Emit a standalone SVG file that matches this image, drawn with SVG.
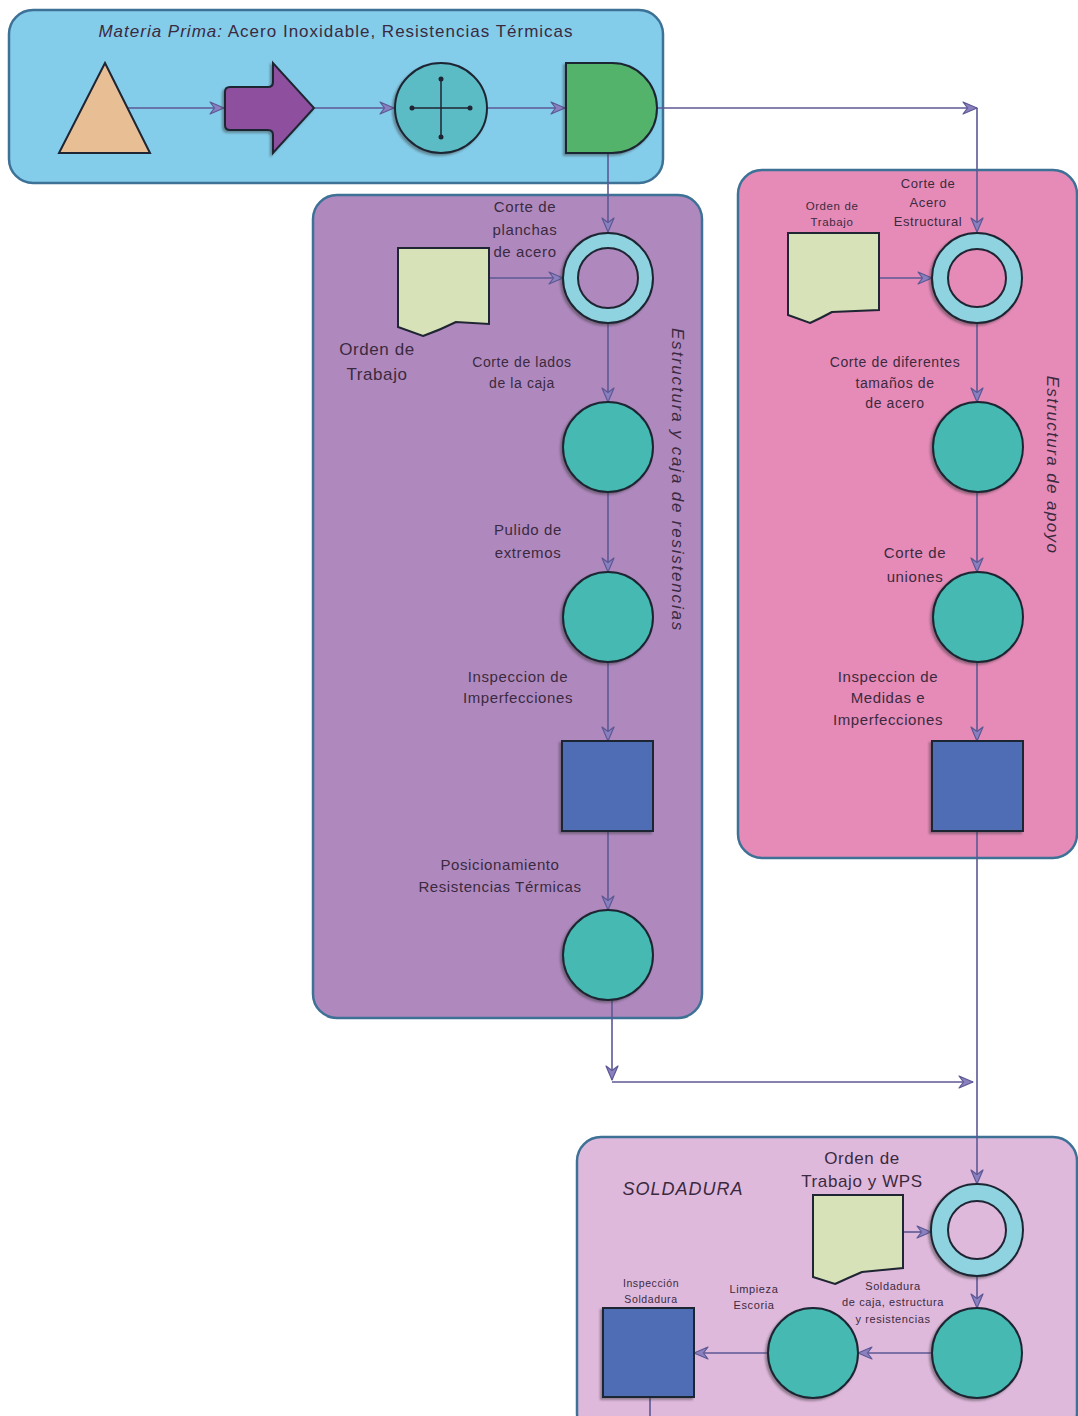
<svg xmlns="http://www.w3.org/2000/svg" width="1078" height="1416" viewBox="0 0 1078 1416">
<defs>
<style>
text{font-family:"Liberation Sans","DejaVu Sans",Arial,sans-serif;fill:#3b2a3f;text-anchor:middle;letter-spacing:0.6px}
.box{stroke:#3d7196;stroke-width:2.5}
.sh{stroke:#1f2533;stroke-width:2}
.op{fill:#45b9b2}
.ring{fill:#8fd3e0}
.insp{fill:#4f6db5}
.doc{fill:#d8e2b8}
.con{fill:none;stroke:#5c5894;stroke-width:1.6}
.arr{marker-end:url(#ah)}
.it{font-style:italic}
</style>
<marker id="ah" viewBox="0 0 16 14" refX="15" refY="7" markerWidth="16" markerHeight="14" markerUnits="userSpaceOnUse" orient="auto">
<path d="M1,1 L15,7 L1,13 L5.5,7 Z" fill="#8a80c0" stroke="#5c5894" stroke-width="1.2" stroke-linejoin="round"/>
</marker>
<filter id="ds" x="-20%" y="-20%" width="140%" height="140%">
<feDropShadow dx="-2" dy="2" stdDeviation="1.2" flood-color="#333" flood-opacity="0.45"/>
</filter>
</defs>

<!-- Containers -->
<g id="top-box">
<rect class="box" x="9" y="10" width="654" height="173" rx="24" fill="#84cdea"/>
<text x="336" y="37" font-size="17" style="letter-spacing:1px"><tspan class="it">Materia Prima:</tspan> Acero Inoxidable, Resistencias Térmicas</text>
</g>
<g id="box-caja">
<rect class="box" x="313" y="195" width="389" height="823" rx="24" fill="#af89be"/>
<text class="it" transform="translate(672,480) rotate(90)" font-size="17" style="letter-spacing:1.8px">Estructura y caja de resistencias</text>
</g>
<g id="box-apoyo">
<rect class="box" x="738" y="170" width="339" height="688" rx="24" fill="#e68bb8"/>
<text class="it" transform="translate(1047,465) rotate(90)" font-size="17" style="letter-spacing:1.4px">Estructura de apoyo</text>
</g>
<g id="box-soldadura">
<rect class="box" x="577" y="1137" width="500" height="300" rx="24" fill="#dfb9dc"/>
<text class="it" x="683" y="1195" font-size="18" style="letter-spacing:1px">SOLDADURA</text>
</g>

<!-- Connectors -->
<g id="connectors">
<path class="con arr" d="M128,108 H224"/>
<path class="con arr" d="M315,108 H394"/>
<path class="con arr" d="M487,108 H565"/>
<path class="con arr" d="M657,108 H977"/>
<path class="con arr" d="M977,108 V232"/>
<path class="con arr" d="M608,153 V232"/>
<path class="con arr" d="M490,278 H563"/>
<path class="con arr" d="M608,323 V402"/>
<path class="con arr" d="M608,492 V572"/>
<path class="con arr" d="M608,662 V741"/>
<path class="con arr" d="M608,831 V910"/>
<path class="con arr" d="M612,1000 V1080"/>
<path class="con arr" d="M612,1082 H973"/>
<path class="con arr" d="M879,278 H932"/>
<path class="con arr" d="M977,323 V402"/>
<path class="con arr" d="M977,492 V572"/>
<path class="con arr" d="M977,662 V741"/>
<path class="con arr" d="M977,831 V1184"/>
<path class="con arr" d="M903,1232 H931"/>
<path class="con arr" d="M977,1276 V1308"/>
<path class="con arr" d="M932,1353 H858"/>
<path class="con arr" d="M768,1353 H694"/>
<path class="con" d="M650,1397 V1416"/>
</g>

<!-- Top row nodes -->
<g id="n-materia">
<path class="sh" d="M59,153 L105,63 L150,153 Z" fill="#e8bf94"/>
</g>
<g id="n-transporte">
<path class="sh" filter="url(#ds)" d="M230,87 H268 Q273,87 273,82 V63 L314,108 L273,153 V135 Q273,130 268,130 H230 Q225,130 225,125 V92 Q225,87 230,87 Z" fill="#8e4f9e"/>
</g>
<g id="n-combinacion">
<ellipse class="sh" filter="url(#ds)" cx="441" cy="108" rx="46" ry="45" fill="#5cbcc6"/>
<path d="M412,108 H470 M441,79 V137" stroke="#1f2533" stroke-width="1.5"/>
<circle cx="412" cy="108" r="2.5" fill="#1f2533"/><circle cx="470" cy="108" r="2.5" fill="#1f2533"/>
<circle cx="441" cy="79" r="2.5" fill="#1f2533"/><circle cx="441" cy="137" r="2.5" fill="#1f2533"/>
</g>
<g id="n-demora">
<path class="sh" filter="url(#ds)" d="M566,63 H612 A45,45 0 0 1 612,153 H566 Z" fill="#52b36b"/>
</g>

<!-- Estructura y caja -->
<g id="n-doc1">
<path class="sh doc" d="M398,248 H489 V324 L456,322 Q440,330 423,336 L398,327 Z"/>
<text x="377" y="355" font-size="17">Orden de</text>
<text x="377" y="380" font-size="17">Trabajo</text>
</g>
<g id="n-ring1">
<circle class="sh ring" filter="url(#ds)" cx="608" cy="278" r="45"/>
<circle class="sh" cx="608" cy="278" r="30" fill="#af89be"/>
<text x="525" y="212" font-size="15">Corte de</text>
<text x="525" y="235" font-size="15">planchas</text>
<text x="525" y="257" font-size="15">de acero</text>
</g>
<g id="n-op1">
<circle class="sh op" filter="url(#ds)" cx="608" cy="447" r="45"/>
<text x="522" y="367" font-size="14">Corte de lados</text>
<text x="522" y="388" font-size="14">de la caja</text>
</g>
<g id="n-op2">
<circle class="sh op" filter="url(#ds)" cx="608" cy="617" r="45"/>
<text x="528" y="535" font-size="15">Pulido de</text>
<text x="528" y="558" font-size="15">extremos</text>
</g>
<g id="n-insp1">
<rect class="sh insp" filter="url(#ds)" x="562" y="741" width="91" height="90"/>
<text x="518" y="682" font-size="15">Inspeccion de</text>
<text x="518" y="703" font-size="15">Imperfecciones</text>
</g>
<g id="n-op3">
<circle class="sh op" filter="url(#ds)" cx="608" cy="955" r="45"/>
<text x="500" y="870" font-size="15">Posicionamiento</text>
<text x="500" y="892" font-size="15">Resistencias Térmicas</text>
</g>

<!-- Estructura de apoyo -->
<g id="n-doc2">
<path class="sh doc" d="M788,233 H879 V310 L832,312 Q821,318 810,323 L788,315 Z"/>
<text x="832" y="210" font-size="11.5">Orden de</text>
<text x="832" y="226" font-size="11.5">Trabajo</text>
</g>
<g id="n-ring2">
<circle class="sh ring" filter="url(#ds)" cx="977" cy="278" r="45"/>
<circle class="sh" cx="977" cy="278" r="29" fill="#e68bb8"/>
<text x="928" y="188" font-size="13">Corte de</text>
<text x="928" y="207" font-size="13">Acero</text>
<text x="928" y="226" font-size="13">Estructural</text>
</g>
<g id="n-op4">
<circle class="sh op" filter="url(#ds)" cx="978" cy="447" r="45"/>
<text x="895" y="367" font-size="14">Corte de diferentes</text>
<text x="895" y="388" font-size="14">tamaños de</text>
<text x="895" y="408" font-size="14">de acero</text>
</g>
<g id="n-op5">
<circle class="sh op" filter="url(#ds)" cx="978" cy="617" r="45"/>
<text x="915" y="558" font-size="15">Corte de</text>
<text x="915" y="582" font-size="15">uniones</text>
</g>
<g id="n-insp2">
<rect class="sh insp" filter="url(#ds)" x="932" y="741" width="91" height="90"/>
<text x="888" y="682" font-size="15">Inspeccion de</text>
<text x="888" y="703" font-size="15">Medidas e</text>
<text x="888" y="725" font-size="15">Imperfecciones</text>
</g>

<!-- Soldadura -->
<g id="n-doc3">
<path class="sh doc" d="M813,1195 H903 V1268 L862,1272 Q848,1278 835,1284 L813,1277 Z"/>
<text x="862" y="1164" font-size="17">Orden de</text>
<text x="862" y="1187" font-size="17">Trabajo y WPS</text>
</g>
<g id="n-ring3">
<circle class="sh ring" filter="url(#ds)" cx="977" cy="1230" r="46"/>
<circle class="sh" cx="977" cy="1230" r="29" fill="#dfb9dc"/>
</g>
<g id="n-op6">
<circle class="sh op" filter="url(#ds)" cx="977" cy="1353" r="45"/>
<text x="893" y="1290" font-size="11">Soldadura</text>
<text x="893" y="1306" font-size="11">de caja, estructura</text>
<text x="893" y="1323" font-size="11">y resistencias</text>
</g>
<g id="n-op7">
<circle class="sh op" filter="url(#ds)" cx="813" cy="1353" r="45"/>
<text x="754" y="1293" font-size="11">Limpieza</text>
<text x="754" y="1309" font-size="11">Escoria</text>
</g>
<g id="n-insp3">
<rect class="sh insp" filter="url(#ds)" x="603" y="1308" width="91" height="89"/>
<text x="651" y="1287" font-size="10.5">Inspección</text>
<text x="651" y="1303" font-size="10.5">Soldadura</text>
</g>
</svg>
